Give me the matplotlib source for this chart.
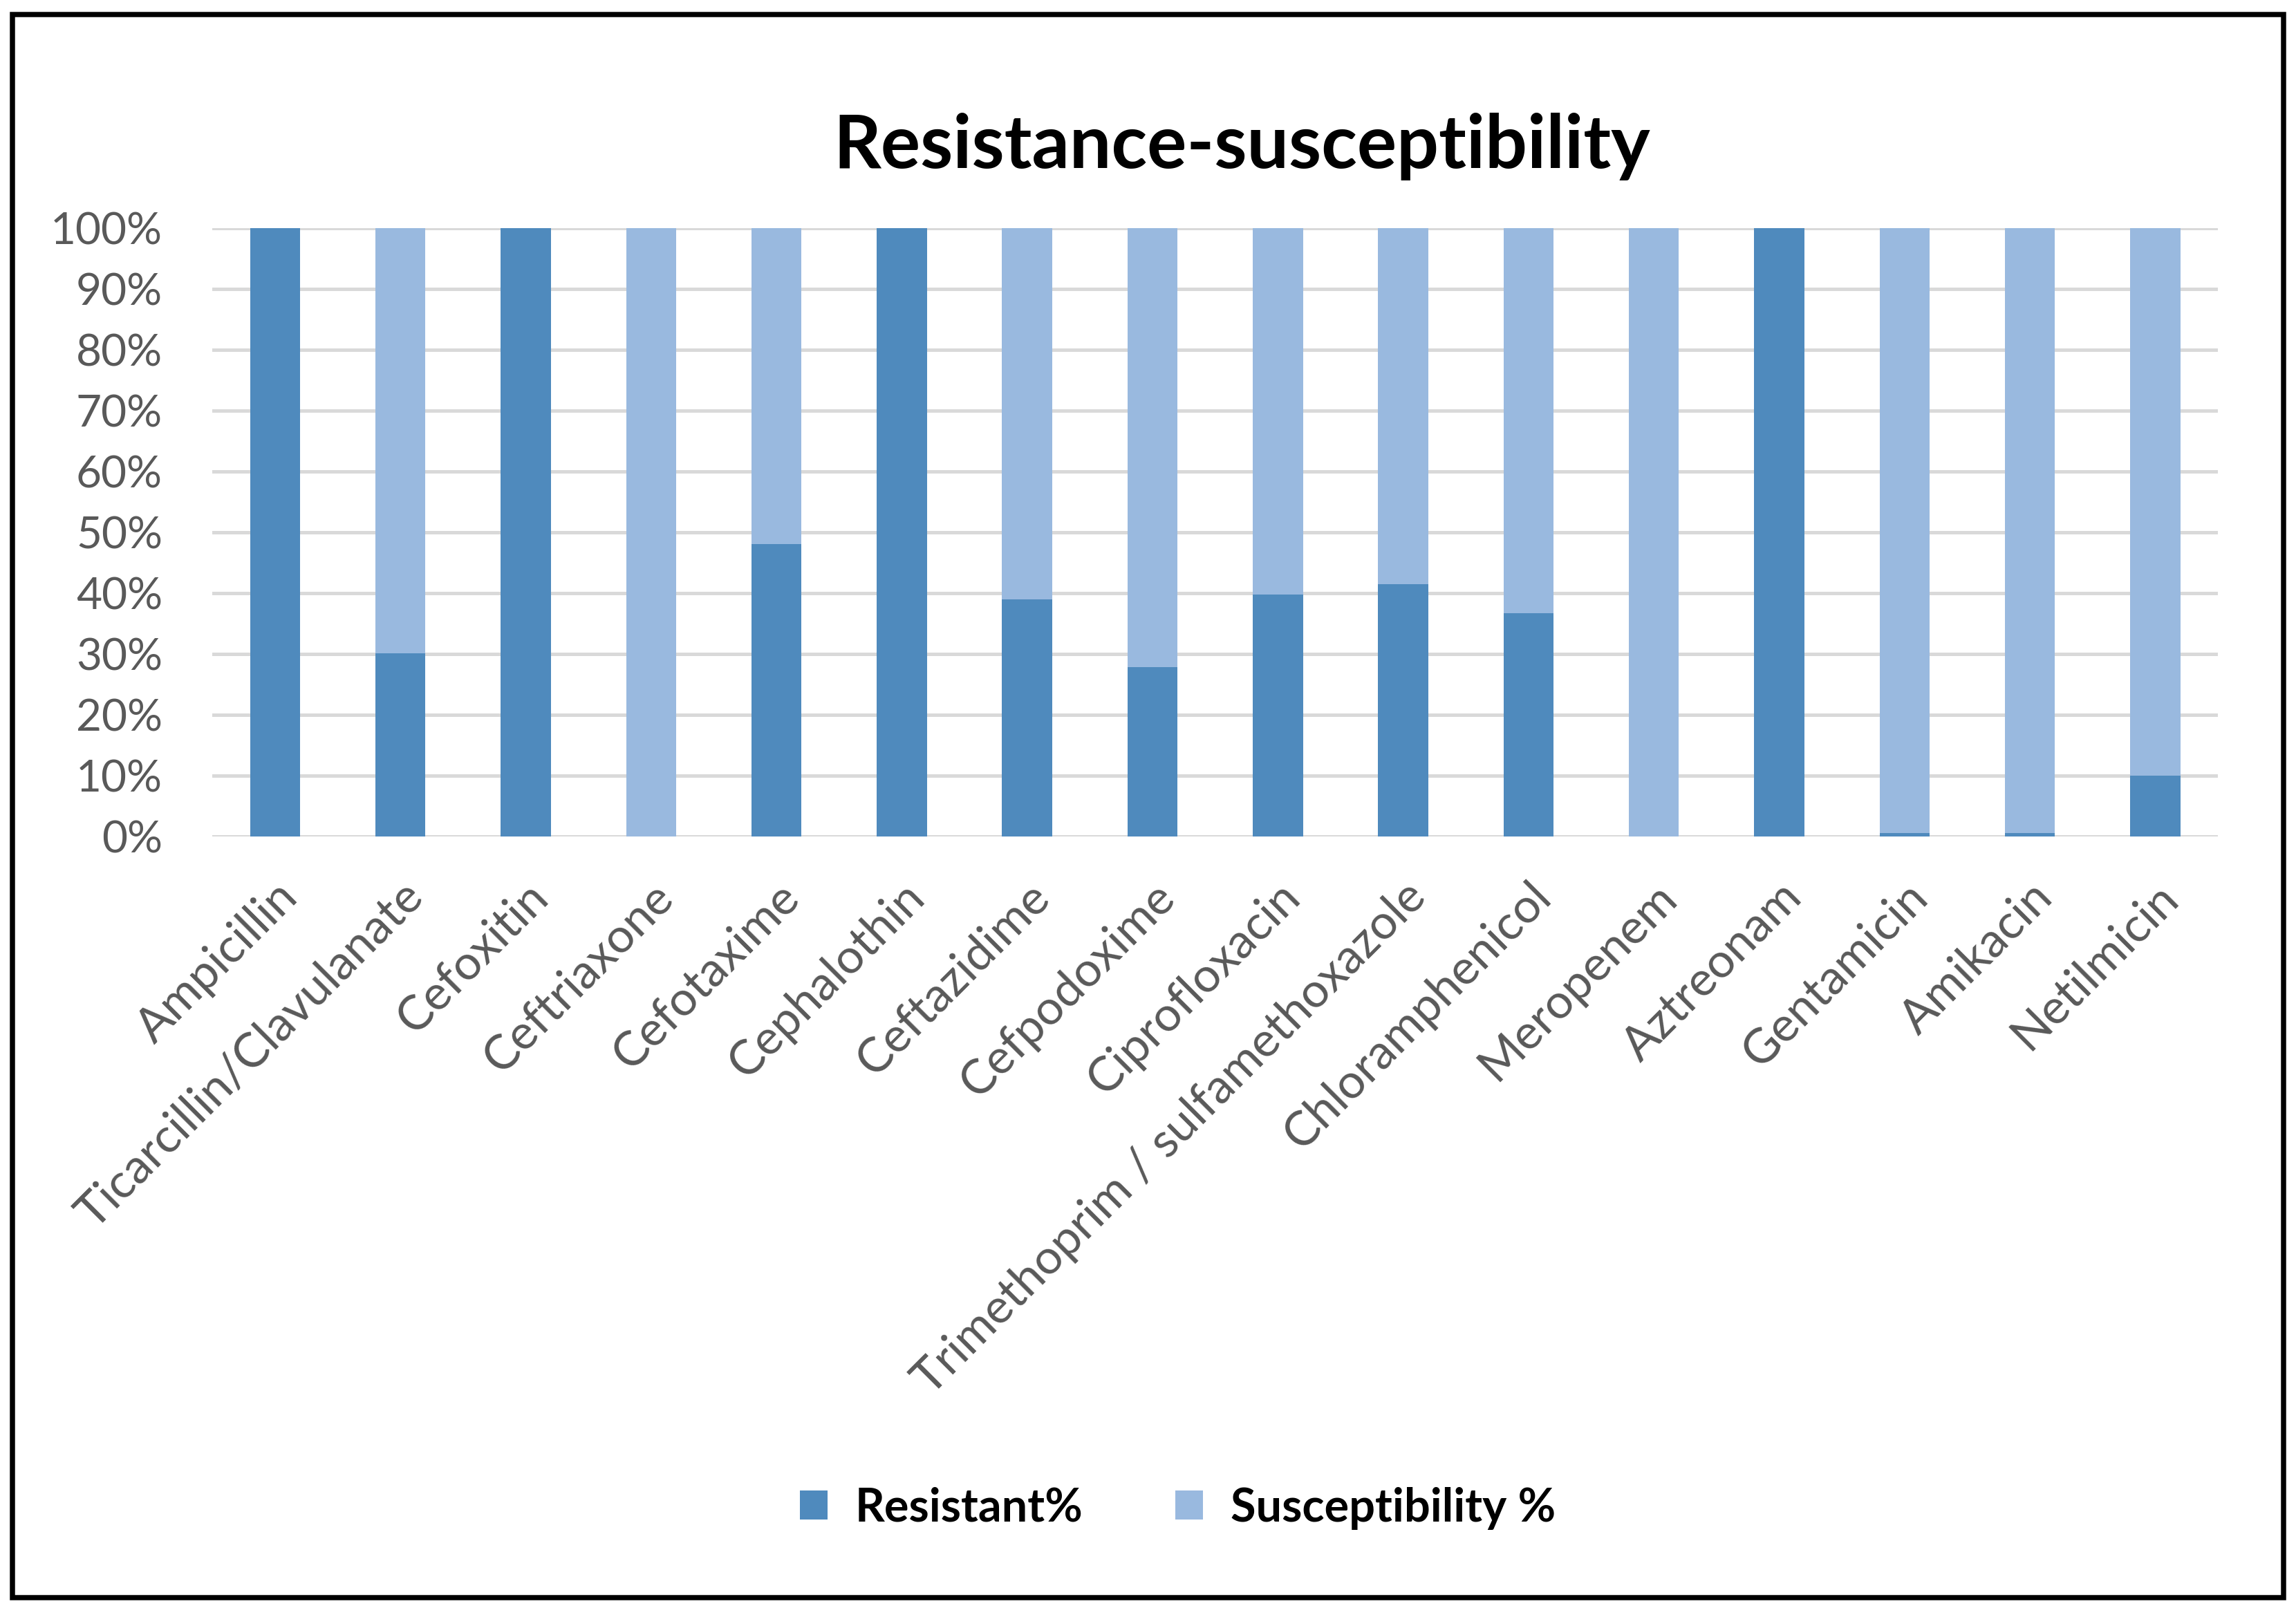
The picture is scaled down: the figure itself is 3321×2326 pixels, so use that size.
import matplotlib.pyplot as plt
import numpy as np
from matplotlib.patches import Rectangle

drugs = ["Ampicillin", "Ticarcillin/Clavulanate", "Cefoxitin", "Ceftriaxone",
         "Cefotaxime", "Cephalothin", "Ceftazidime", "Cefpodoxime",
         "Ciprofloxacin", "Trimethoprim / sulfamethoxazole", "Chloramphenicol",
         "Meropenem", "Aztreonam", "Gentamicin", "Amikacin", "Netilmicin"]
resistant = [100, 30.1, 100, 0, 48, 100, 39, 27.8, 39.8, 41.5, 36.7, 0, 100, 0.5, 0.5, 10]
susceptible = [0, 69.9, 0, 100, 52, 0, 61, 72.2, 60.2, 58.5, 63.3, 100, 0, 99.5, 99.5, 90]
yticks = [0, 10, 20, 30, 40, 50, 60, 70, 80, 90, 100]

dark = "#4F8ABD"
light = "#99B9DF"
grey_txt = "#595959"
plt.rcParams['font.family'] = ['Lato', 'DejaVu Sans']

fig = plt.figure(figsize=(16.605, 11.63), dpi=200)
ax = fig.add_axes([0.0925, 0.480, 0.8735, 0.378])

x = np.arange(len(drugs))
ax.bar(x, resistant, width=0.4, color=dark, label="Resistant%", zorder=3)
ax.bar(x, susceptible, width=0.4, bottom=resistant, color=light,
       label="Susceptibility %", zorder=3)

ax.set_xlim(-0.5, len(drugs) - 0.5)
ax.set_ylim(0, 100)
ax.set_yticks(yticks)
ax.set_yticklabels([f"{v}%" for v in yticks], fontsize=23, color=grey_txt)
ax.yaxis.grid(True, color="#D9D9D9", linewidth=1.8, zorder=0)
ax.set_axisbelow(True)
for s in ax.spines.values():
    s.set_visible(False)
ax.tick_params(axis="both", length=0)
ax.tick_params(axis="y", pad=26)
ax.set_xticks(x)
ax.set_xticklabels(drugs, rotation=45, ha="right", rotation_mode="anchor",
                   fontsize=25, color=grey_txt)
ax.tick_params(axis="x", pad=20)

fig.text(0.541, 0.8955, "Resistance-susceptibility", ha="center", va="baseline",
         fontsize=38.6, fontweight="bold")

leg = fig.legend(loc="center", bbox_to_anchor=(0.513, 0.062), ncol=2, frameon=False,
                 prop={"size": 24, "weight": "bold"}, handlelength=0.6,
                 handleheight=0.6, handletextpad=0.6, columnspacing=2.0)

fig.patches.append(Rectangle((0.0055, 0.0065), 0.989, 0.9845, transform=fig.transFigure,
                             fill=False, edgecolor="black", linewidth=2.7))

fig.savefig("out.png", dpi=200)
